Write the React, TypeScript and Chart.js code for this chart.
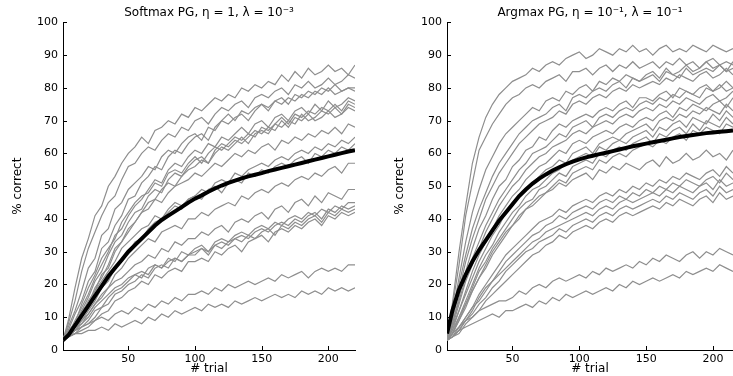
import React, { useEffect, useRef } from 'react';
import { Chart, registerables } from 'chart.js';

Chart.register(...registerables);

const FONT = 'DejaVu Sans';

// trial numbers at which each run is sampled
const trials = [1, 5, 10, 15, 20, 25, 30, 35, 40, 45, 50, 55, 60, 65, 70, 75, 80, 85, 90, 95, 100, 105, 110, 115, 120, 125, 130, 135, 140, 145, 150, 155, 160, 165, 170, 175, 180, 185, 190, 195, 200, 205, 210, 215, 220];

const xTickValues = [50, 100, 150, 200];
const yTickValues = [0, 10, 20, 30, 40, 50, 60, 70, 80, 90, 100];

const softmaxTitle = 'Softmax PG, η = 1, λ = 10⁻³';
const argmaxTitle = 'Argmax PG, η = 10⁻¹, λ = 10⁻¹';

// Softmax PG: individual runs (% correct)
const softmaxRuns = [
  [3, 9, 19, 28, 34, 41, 44, 50, 53, 57, 60, 62, 65, 63, 67, 68, 70, 69, 72, 71, 74, 73, 75, 77, 76, 78, 77, 80, 79, 81, 80, 82, 81, 84, 82, 85, 83, 86, 84, 85, 87, 85, 86, 84, 87],
  [3, 8, 15, 24, 31, 36, 41, 45, 47, 52, 56, 57, 60, 62, 61, 64, 66, 65, 68, 67, 70, 71, 69, 72, 74, 73, 75, 76, 74, 77, 78, 77, 79, 80, 78, 81, 80, 82, 80, 81, 83, 81, 82, 84, 83],
  [3, 7, 12, 18, 25, 28, 35, 37, 43, 45, 49, 51, 53, 56, 55, 59, 61, 60, 63, 65, 66, 64, 68, 67, 70, 72, 70, 73, 72, 74, 75, 73, 76, 77, 75, 78, 77, 79, 78, 80, 79, 81, 79, 80, 80],
  [3, 6, 11, 15, 21, 24, 31, 33, 38, 41, 46, 47, 51, 53, 56, 55, 59, 61, 60, 63, 65, 66, 64, 68, 70, 69, 71, 72, 70, 73, 75, 74, 76, 75, 77, 76, 78, 77, 79, 78, 80, 78, 79, 80, 79],
  [3, 5, 9, 13, 17, 22, 26, 30, 35, 37, 41, 44, 46, 49, 52, 51, 55, 57, 56, 59, 61, 60, 63, 62, 65, 64, 66, 68, 66, 69, 70, 68, 71, 72, 70, 73, 74, 72, 75, 73, 76, 74, 75, 77, 76],
  [3, 6, 8, 14, 19, 23, 28, 31, 34, 39, 42, 45, 47, 48, 51, 50, 54, 55, 54, 57, 59, 57, 60, 62, 61, 63, 65, 64, 66, 65, 68, 67, 69, 71, 69, 72, 71, 73, 72, 74, 73, 75, 73, 76, 75],
  [3, 4, 7, 11, 15, 18, 23, 25, 30, 33, 37, 39, 42, 45, 46, 49, 51, 50, 53, 55, 56, 58, 57, 60, 62, 61, 63, 65, 63, 66, 67, 66, 69, 68, 70, 69, 72, 70, 71, 73, 72, 74, 72, 75, 74],
  [3, 5, 8, 12, 16, 21, 24, 29, 33, 35, 39, 42, 43, 47, 49, 48, 52, 54, 53, 56, 58, 59, 57, 61, 63, 62, 64, 63, 65, 67, 66, 68, 67, 70, 68, 71, 70, 72, 70, 71, 73, 71, 72, 74, 73],
  [3, 5, 7, 12, 14, 19, 22, 26, 31, 33, 36, 39, 42, 43, 46, 45, 48, 50, 51, 52, 54, 53, 55, 57, 56, 58, 60, 59, 61, 60, 62, 63, 61, 64, 63, 65, 64, 66, 65, 67, 66, 68, 66, 69, 68],
  [3, 4, 6, 9, 12, 15, 19, 21, 25, 27, 30, 33, 34, 37, 39, 40, 42, 44, 43, 46, 47, 49, 48, 51, 52, 51, 54, 53, 55, 56, 57, 56, 58, 59, 58, 60, 61, 60, 62, 61, 63, 62, 64, 63, 65],
  [3, 5, 8, 11, 14, 18, 21, 24, 27, 31, 33, 35, 37, 38, 41, 40, 43, 45, 44, 46, 47, 46, 49, 50, 48, 51, 52, 51, 54, 53, 55, 54, 56, 57, 56, 58, 59, 57, 60, 59, 61, 60, 62, 61, 63],
  [3, 4, 6, 8, 11, 14, 17, 19, 23, 25, 28, 30, 32, 34, 33, 36, 37, 38, 37, 40, 40, 42, 41, 43, 44, 45, 44, 47, 46, 48, 49, 48, 50, 51, 50, 52, 53, 52, 54, 53, 55, 56, 54, 57, 57],
  [3, 5, 7, 9, 11, 14, 16, 19, 21, 22, 24, 26, 27, 29, 28, 31, 30, 33, 32, 34, 34, 36, 35, 37, 38, 36, 39, 40, 39, 41, 42, 40, 43, 44, 42, 45, 46, 44, 47, 45, 48, 47, 46, 49, 49],
  [3, 4, 6, 7, 9, 12, 13, 16, 18, 19, 21, 23, 22, 25, 26, 25, 28, 27, 30, 29, 31, 32, 30, 33, 34, 33, 35, 36, 35, 37, 38, 37, 39, 38, 40, 41, 40, 42, 41, 43, 42, 44, 43, 45, 45],
  [3, 4, 5, 7, 8, 10, 13, 14, 17, 18, 20, 21, 23, 22, 25, 26, 25, 28, 27, 29, 30, 31, 29, 32, 33, 32, 34, 35, 34, 36, 37, 36, 38, 39, 38, 40, 39, 41, 42, 40, 43, 42, 44, 43, 44],
  [3, 5, 7, 8, 10, 13, 15, 17, 19, 20, 22, 23, 24, 23, 26, 25, 27, 28, 27, 29, 29, 31, 30, 32, 31, 33, 34, 33, 35, 34, 36, 37, 35, 38, 37, 39, 38, 40, 41, 39, 42, 41, 43, 42, 43],
  [3, 4, 5, 6, 7, 9, 11, 12, 15, 16, 18, 19, 21, 20, 23, 22, 24, 25, 24, 27, 27, 28, 27, 30, 29, 31, 32, 30, 33, 34, 35, 33, 36, 37, 36, 38, 37, 39, 40, 38, 41, 40, 42, 41, 42],
  [3, 5, 6, 7, 8, 9, 10, 9, 11, 12, 11, 13, 12, 14, 13, 15, 14, 16, 15, 17, 17, 18, 17, 19, 18, 20, 19, 20, 21, 20, 21, 22, 21, 23, 22, 23, 24, 22, 24, 25, 24, 25, 24, 26, 26],
  [3, 4, 5, 5, 6, 6, 7, 6, 8, 7, 8, 9, 8, 10, 9, 11, 10, 12, 11, 12, 13, 12, 14, 13, 14, 13, 15, 14, 15, 16, 15, 16, 17, 16, 17, 16, 18, 17, 18, 17, 19, 18, 19, 18, 19],
];

// Softmax PG: average over runs
const softmaxMean = [3, 4.5, 7.5, 10.5, 13.5, 16.5, 19.5, 22.5, 25, 27.5, 30, 32, 34, 36, 38, 39.7, 41, 42.3, 43.6, 45, 46.2, 47.2, 48.3, 49.3, 50.2, 51, 51.7, 52.4, 53, 53.5, 54, 54.6, 55.1, 55.6, 56.1, 56.6, 57.1, 57.6, 58.1, 58.6, 59.1, 59.6, 60.1, 60.6, 61];

// Argmax PG: individual runs (% correct)
const argmaxRuns = [
  [4, 14, 30, 44, 57, 65, 71, 75, 78, 80, 82, 83, 84, 86, 85, 87, 88, 87, 89, 90, 91, 89, 90, 92, 91, 90, 92, 91, 93, 91, 92, 90, 92, 93, 91, 92, 91, 93, 92, 91, 93, 92, 91, 92, 92],
  [3, 13, 26, 41, 51, 61, 65, 69, 72, 75, 77, 78, 80, 81, 80, 82, 83, 84, 82, 85, 85, 86, 84, 86, 87, 85, 87, 86, 88, 86, 87, 88, 86, 88, 87, 89, 87, 88, 86, 88, 89, 87, 88, 87, 88],
  [4, 11, 22, 33, 42, 49, 55, 59, 63, 66, 68, 70, 72, 74, 73, 76, 77, 76, 79, 78, 80, 81, 79, 82, 81, 83, 82, 84, 83, 82, 84, 85, 83, 86, 84, 85, 87, 85, 86, 88, 86, 87, 85, 88, 87],
  [3, 10, 20, 29, 37, 43, 48, 53, 57, 60, 63, 66, 68, 70, 71, 72, 74, 75, 73, 77, 78, 77, 79, 80, 79, 81, 82, 80, 83, 82, 83, 84, 82, 85, 84, 83, 86, 84, 85, 86, 85, 87, 85, 86, 86],
  [3, 9, 18, 27, 34, 40, 46, 50, 54, 57, 60, 63, 65, 67, 69, 70, 71, 73, 72, 75, 76, 75, 77, 78, 77, 79, 80, 79, 81, 80, 81, 82, 81, 83, 82, 84, 83, 82, 84, 85, 83, 84, 86, 84, 85],
  [3, 8, 16, 24, 31, 37, 41, 46, 50, 52, 56, 58, 61, 62, 65, 64, 67, 69, 68, 70, 71, 72, 71, 73, 74, 73, 75, 76, 74, 77, 77, 76, 78, 79, 77, 80, 79, 78, 80, 81, 79, 80, 82, 80, 81],
  [3, 8, 15, 22, 28, 33, 38, 42, 46, 49, 52, 55, 57, 60, 61, 62, 64, 66, 65, 68, 69, 70, 68, 71, 72, 71, 73, 74, 73, 75, 76, 75, 77, 76, 78, 77, 79, 78, 77, 80, 79, 81, 79, 80, 80],
  [3, 7, 14, 21, 26, 31, 36, 40, 44, 47, 50, 52, 55, 57, 59, 60, 62, 63, 64, 66, 67, 66, 68, 69, 70, 69, 71, 72, 71, 73, 74, 73, 75, 74, 76, 75, 77, 76, 75, 77, 78, 76, 77, 79, 78],
  [3, 7, 12, 18, 24, 29, 33, 37, 41, 44, 47, 49, 52, 54, 56, 57, 59, 61, 60, 63, 64, 63, 65, 66, 67, 66, 68, 69, 68, 70, 71, 70, 72, 73, 71, 74, 73, 75, 74, 73, 75, 76, 74, 77, 76],
  [3, 6, 12, 17, 22, 27, 31, 35, 38, 42, 44, 47, 49, 51, 53, 55, 56, 58, 57, 60, 61, 62, 60, 63, 64, 65, 64, 66, 67, 68, 69, 67, 70, 71, 70, 72, 71, 73, 72, 74, 73, 72, 75, 73, 74],
  [3, 6, 10, 15, 20, 25, 29, 32, 36, 39, 42, 44, 47, 49, 50, 52, 54, 55, 57, 58, 59, 60, 59, 62, 61, 63, 64, 63, 65, 66, 67, 65, 68, 67, 69, 70, 68, 71, 70, 69, 72, 70, 73, 71, 72],
  [3, 5, 10, 14, 19, 24, 27, 31, 34, 37, 40, 43, 45, 46, 49, 50, 52, 54, 53, 56, 57, 58, 57, 60, 59, 61, 62, 61, 63, 64, 65, 63, 66, 65, 67, 68, 66, 69, 67, 70, 69, 68, 71, 69, 70],
  [3, 5, 9, 14, 18, 22, 26, 30, 33, 36, 38, 41, 43, 45, 47, 48, 50, 52, 51, 54, 55, 56, 55, 58, 57, 59, 60, 59, 61, 62, 63, 62, 64, 63, 65, 66, 64, 67, 66, 68, 67, 66, 69, 68, 69],
  [3, 5, 9, 13, 18, 22, 25, 29, 32, 35, 38, 40, 43, 44, 46, 48, 49, 51, 50, 52, 53, 54, 52, 55, 54, 56, 55, 57, 56, 55, 57, 58, 56, 59, 57, 58, 60, 58, 59, 61, 59, 60, 58, 61, 60],
  [3, 4, 7, 10, 13, 17, 20, 23, 26, 29, 31, 33, 35, 37, 39, 40, 41, 43, 42, 44, 45, 46, 45, 47, 48, 47, 49, 48, 50, 49, 51, 50, 52, 51, 53, 52, 54, 53, 52, 54, 55, 53, 56, 54, 55],
  [3, 4, 6, 9, 12, 16, 19, 21, 24, 27, 29, 31, 33, 35, 36, 38, 39, 41, 40, 42, 43, 44, 43, 45, 46, 45, 47, 46, 48, 47, 49, 48, 50, 49, 51, 50, 52, 51, 50, 52, 53, 51, 54, 52, 53],
  [3, 5, 7, 10, 13, 15, 18, 21, 23, 25, 27, 29, 31, 33, 34, 36, 37, 38, 39, 40, 41, 42, 41, 43, 44, 43, 45, 46, 45, 46, 47, 48, 47, 49, 48, 50, 49, 48, 50, 51, 49, 52, 50, 51, 51],
  [3, 4, 6, 9, 11, 14, 16, 19, 21, 24, 26, 28, 30, 31, 33, 34, 35, 37, 36, 38, 39, 40, 39, 41, 42, 41, 43, 44, 43, 44, 45, 46, 45, 47, 46, 48, 47, 46, 48, 49, 47, 50, 48, 49, 49],
  [3, 4, 5, 8, 10, 12, 15, 17, 19, 21, 23, 25, 27, 29, 30, 32, 33, 35, 34, 36, 37, 38, 37, 39, 40, 39, 41, 42, 41, 42, 43, 44, 43, 45, 44, 46, 45, 44, 46, 47, 45, 48, 46, 47, 47],
  [3, 5, 7, 9, 10, 12, 13, 14, 15, 15, 16, 18, 17, 19, 20, 19, 21, 22, 21, 22, 23, 22, 24, 23, 25, 24, 25, 26, 25, 27, 26, 28, 27, 29, 28, 27, 29, 30, 28, 30, 29, 31, 30, 29, 30],
  [3, 4, 6, 7, 8, 9, 10, 11, 10, 12, 12, 13, 14, 13, 15, 14, 16, 15, 17, 16, 17, 18, 17, 18, 19, 18, 20, 19, 21, 20, 21, 22, 21, 22, 23, 22, 24, 23, 24, 25, 24, 26, 25, 24, 26],
];

// Argmax PG: average over runs
const argmaxMean = [5, 12, 18.5, 23, 27, 30.5, 33.5, 36.5, 39.5, 42, 44.5, 47, 49, 50.8, 52.3, 53.6, 54.8, 55.8, 56.7, 57.5, 58.2, 58.8, 59.3, 59.8, 60.2, 60.7, 61.2, 61.7, 62.2, 62.6, 63, 63.4, 63.8, 64.2, 64.6, 65, 65.3, 65.6, 65.9, 66.2, 66.4, 66.6, 66.8, 67, 67.1];

const toPoints = (vals: number[]) => trials.map((t, i) => ({ x: t, y: vals[i] }));

const inwardTicks = {
  id: 'inwardTicks',
  afterDraw(chart: any) {
    const { ctx, chartArea: a, scales } = chart;
    const xs = scales.x;
    const ys = scales.y;
    ctx.save();
    ctx.strokeStyle = '#000';
    ctx.lineWidth = 1;
    ctx.beginPath();
    xs.ticks.forEach((t: any) => {
      const px = Math.round(xs.getPixelForValue(t.value)) + 0.5;
      ctx.moveTo(px, a.bottom);
      ctx.lineTo(px, a.bottom - 4);
    });
    ys.ticks.forEach((t: any) => {
      const py = Math.round(ys.getPixelForValue(t.value)) + 0.5;
      ctx.moveTo(a.left, py);
      ctx.lineTo(a.left + 4, py);
    });
    ctx.stroke();
    ctx.restore();
  },
};

type PanelProps = {
  title: string;
  runs: number[][];
  mean: number[];
  xMax: number;
  left: number;
  width: number;
  yAxisWidth: number;
  yTitlePad: number;
  padRight: number;
};

function Panel({ title, runs, mean, xMax, left, width, yAxisWidth, yTitlePad, padRight }: PanelProps) {
  const ref = useRef<HTMLCanvasElement | null>(null);

  useEffect(() => {
    if (!ref.current) return;
    const datasets: any[] = [
      {
        data: toPoints(mean),
        borderColor: '#000000',
        borderWidth: 4,
        pointRadius: 0,
        tension: 0,
        order: 0,
      },
      ...runs.map((r) => ({
        data: toPoints(r),
        borderColor: '#8e8e8e',
        borderWidth: 1.2,
        pointRadius: 0,
        tension: 0,
        order: 1,
      })),
    ];
    const axisCommon = {
      grid: { display: true, drawOnChartArea: false, drawTicks: false },
      border: { display: true, color: '#000', width: 1 },
    };
    const chart = new Chart(ref.current, {
      type: 'line',
      data: { datasets },
      plugins: [inwardTicks],
      options: {
        responsive: false,
        animation: false,
        events: [],
        layout: { padding: { left: 0, top: 0, bottom: 0, right: padRight } },
        plugins: {
          legend: { display: false },
          tooltip: { enabled: false },
          title: {
            display: true,
            fullSize: false,
            text: title,
            color: '#000',
            font: { family: FONT, size: 12, weight: 'normal' },
            padding: { top: 6, bottom: 2 },
          },
        },
        scales: {
          x: {
            type: 'linear',
            min: 1,
            max: xMax,
            ...axisCommon,
            afterBuildTicks: (s: any) => {
              s.ticks = xTickValues.map((v) => ({ value: v }));
            },
            afterFit: (s: any) => {
              s.height = 26;
            },
            ticks: {
              color: '#000',
              font: { family: FONT, size: 11 },
              padding: 3,
              maxRotation: 0,
              autoSkip: false,
            },
            title: {
              display: true,
              text: '# trial',
              color: '#000',
              font: { family: FONT, size: 12 },
              padding: 0,
            },
          },
          y: {
            type: 'linear',
            min: 0,
            max: 100,
            ...axisCommon,
            afterBuildTicks: (s: any) => {
              s.ticks = yTickValues.map((v) => ({ value: v }));
            },
            afterFit: (s: any) => {
              s.width = yAxisWidth;
            },
            ticks: {
              color: '#000',
              font: { family: FONT, size: 11 },
              padding: 5,
              autoSkip: false,
            },
            title: {
              display: true,
              text: '% correct',
              color: '#000',
              font: { family: FONT, size: 12 },
              padding: { top: yTitlePad, bottom: 0 },
            },
          },
        },
      } as any,
    });
    return () => chart.destroy();
  }, [title, runs, mean, xMax, yAxisWidth, yTitlePad, padRight]);

  return (
    <canvas
      ref={ref}
      width={width}
      height={376}
      style={{ position: 'absolute', left, top: 0, width, height: 376 }}
    />
  );
}

export default function App() {
  return (
    <div style={{ position: 'absolute', left: 0, top: 0, width: 733, height: 376, background: '#fff', overflow: 'hidden' }}>
      <Panel title={softmaxTitle} runs={softmaxRuns} mean={softmaxMean} xMax={220} left={0} width={370} yAxisWidth={63} yTitlePad={10.8} padRight={15} />
      <Panel title={argmaxTitle} runs={argmaxRuns} mean={argmaxMean} xMax={215} left={370} width={363} yAxisWidth={77} yTitlePad={22.8} padRight={0} />
    </div>
  );
}
